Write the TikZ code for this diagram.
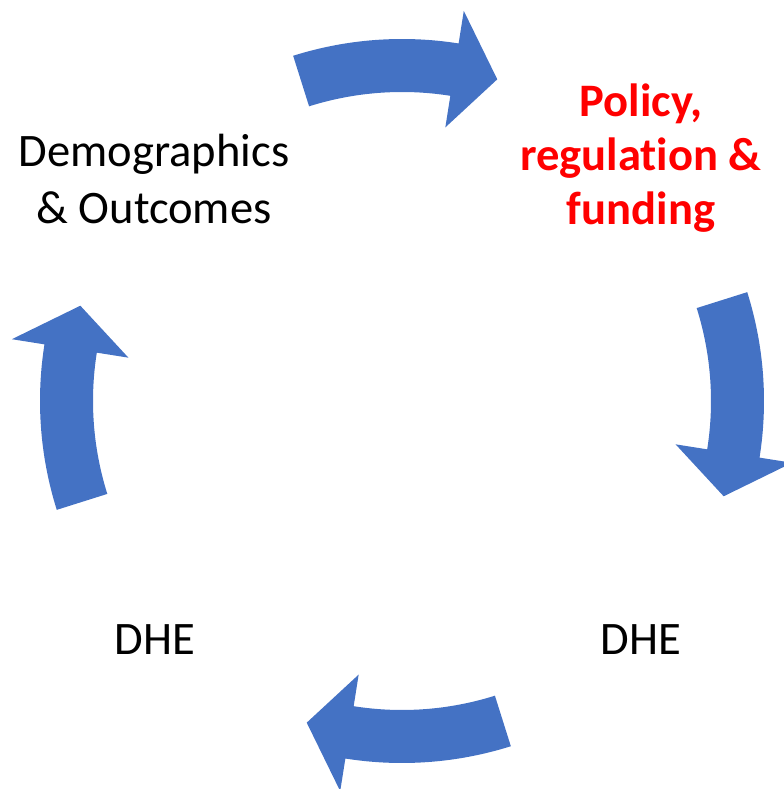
\documentclass[tikz,border=0pt]{standalone}
\usepackage{fontspec}
\setmainfont{Carlito}[Ligatures=NoCommon]
\definecolor{cycleblue}{HTML}{4472C4}
\definecolor{policyred}{HTML}{FF0000}

\begin{document}
\begin{tikzpicture}[cycle arrow/.style={fill=cycleblue},
                    stage/.style={font=\fontsize{26.5}{32.4}\selectfont,align=center}]
  \useasboundingbox (0,0) rectangle (15.66,15.78);
  \coordinate (hub) at (8.04,7.76);

  \node[stage] (demo) at (3.08,12.2) {Demographics\\\& Outcomes};
  \node[stage,text=policyred,font=\fontsize{26.5}{30.6}\selectfont\bfseries] (policy) at (12.82,12.62) {Policy,\\regulation \&\\funding};
  \node[stage] (dheR) at (12.82,2.98) {DHE};
  \node[stage] (dheL) at (3.10,2.98) {DHE};

  % curved block arrows, clockwise round the hub
  \foreach \a in {90,0,-90,180} {
    \fill[cycle arrow] ([shift={(hub)}]{\a+17.5}:7.24) arc[start angle=\a+17.5,end angle=\a-9,radius=7.24]
      -- ([shift={(hub)}]{\a-9}:7.9) -- ([shift={(hub)}]{\a-16.5}:6.71) -- ([shift={(hub)}]{\a-9}:5.54)
      -- ([shift={(hub)}]{\a-9}:6.18) arc[start angle=\a-9,end angle=\a+17.5,radius=6.18] -- cycle;
  }
\end{tikzpicture}
\end{document}
